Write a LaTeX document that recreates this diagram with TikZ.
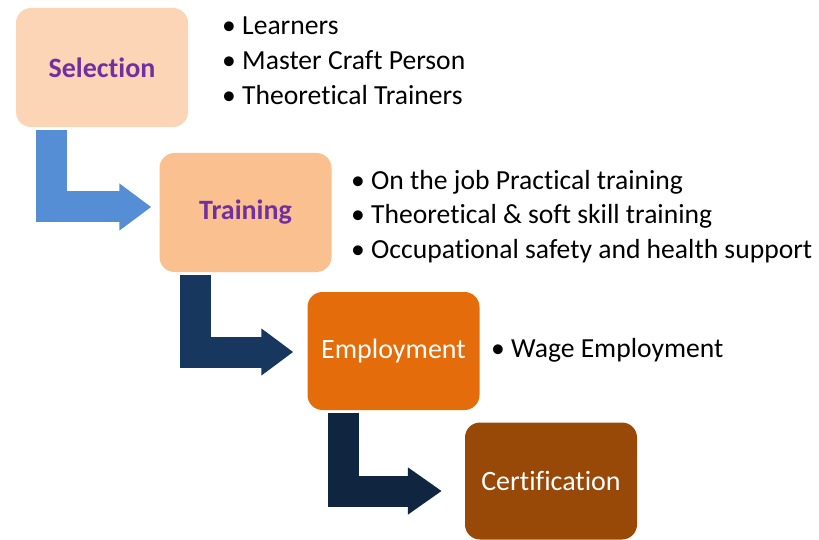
\documentclass[tikz,border=0pt]{standalone}
\usepackage{fontspec}
\setmainfont[RawFeature={-liga;-clig;-calt;-dlig}]{Carlito}
\usetikzlibrary{arrows.meta}
\definecolor{selfill}{HTML}{FBD5B5}
\definecolor{trainfill}{HTML}{FAC090}
\definecolor{empfill}{HTML}{E46C0A}
\definecolor{certfill}{HTML}{984807}
\definecolor{headpurple}{HTML}{7030A0}
\definecolor{flowblue}{HTML}{558ED5}
\definecolor{flownavy}{HTML}{17375E}
\definecolor{flowdark}{HTML}{10253F}
\tikzset{
  stage/.style={rectangle, rounded corners=15pt, minimum width=172pt, minimum height=119pt, inner sep=0pt},
  bullets/.style={anchor=base west, inner sep=0pt, font=\fontsize{27.6}{27.6}\selectfont},
  flow/.style={line width=31pt, line join=miter, -{Triangle[width=45pt,length=32pt]}},
}
\newcommand{\bitem}[1]{\makebox[20pt][l]{\textbullet}#1}

\begin{document}
\begin{tikzpicture}[x=1pt,y=-1pt]
  \useasboundingbox (0,0) rectangle (819,540);

  \node[stage, fill=selfill, text=headpurple, font=\fontsize{28}{28}\selectfont\bfseries] (sel) at (102,67.5) {Selection};
  \node[stage, fill=trainfill, text=headpurple, font=\fontsize{28}{28}\selectfont\bfseries] (train) at (245.5,212.5) {Training};
  \node[stage, fill=empfill, text=white, font=\fontsize{28}{28}\selectfont, minimum height=118pt] (emp) at (393.5,351) {Employment};
  \node[stage, fill=certfill, text=white, font=\fontsize{28}{28}\selectfont, minimum height=117pt] (cert) at (551,481) {Certification};

  % bullet lists
  \node[bullets] (s1) at (222,35) {\bitem{Learners}};
  \node[bullets] (s2) at (222,70) {\bitem{Master Craft Person}};
  \node[bullets] (s3) at (222,105) {\bitem{Theoretical Trainers}};

  \node[bullets] (t1) at (351,189.5) {\bitem{On the job Practical training}};
  \node[bullets] (t2) at (351,224) {\bitem{Theoretical \& soft skill training}};
  \node[bullets] (t3) at (351,258.5) {\bitem{Occupational safety and health support}};

  \node[bullets] (e1) at (491,357) {\bitem{Wage Employment}};

  % bent arrows between the stages
  \draw[flow, flowblue] ([xshift=-50.5pt,yshift=-3pt]sel.south) |- ([xshift=-8pt,yshift=5.5pt]train.west);
  \draw[flow, flownavy] ([xshift=-50pt,yshift=-3pt]train.south) |- ([xshift=-14pt,yshift=-1pt]emp.west);
  \draw[flow, flowdark, -{Triangle[width=45pt,length=34pt]}] ([xshift=-50.5pt,yshift=-3pt]emp.south) |- ([xshift=-23pt,yshift=-10pt]cert.west);
\end{tikzpicture}
\end{document}
